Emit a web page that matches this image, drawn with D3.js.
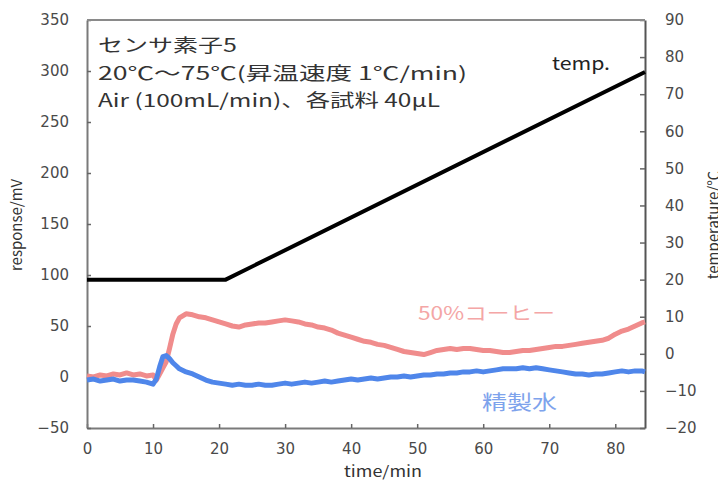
<!DOCTYPE html>
<html>
<head>
<meta charset="utf-8">
<script src="https://cdn.jsdelivr.net/npm/d3@7"></script>
<style>
  body { margin: 0; background: #fff; }
  text { font-family: "Noto Sans CJK JP", "Noto Sans", sans-serif; }
  .tick text { font-family: "DejaVu Sans", sans-serif; font-size: 15px; fill: #4a4a4a; }
</style>
</head>
<body>
<div id="chart"></div>
<script>
// time axis (min)
var times = [0,1,2,3,4,5,6,7,8,9,10,10.5,11,11.5,12,12.5,13,13.5,14,15,16,17,18,19,20,
  21,22,23,24,25,26,27,28,29,30,31,32,33,34,35,36,37,38,39,40,41,42,43,44,45,46,47,48,49,50,
  51,52,53,54,55,56,57,58,59,60,61,62,63,64,65,66,67,68,69,70,71,72,73,74,75,76,77,78,79,80,
  81,82,83,84,84.5];

// 50% coffee response (mV)
var coffee = [1,0,2,1,3,2,4,2,3,1,2,-3,3,9,15,28,42,52,58,62,61,59,58,56,54,
  52,50,49,51,52,53,53,54,55,56,55,54,52,51,49,48,46,43,41,39,37,35,34,32,31,29,27,25,24,23,
  22,24,26,27,28,27,28,28,27,26,26,25,24,24,25,26,26,27,28,29,30,30,31,32,33,34,35,36,38,42,
  45,47,50,53,54];

// purified water response (mV)
var water = [-3,-2,-4,-3,-2,-4,-3,-3,-4,-5,-7,-2,10,20,21,18,14,11,8,5,3,0,-3,-5,-6,
  -7,-8,-7,-8,-8,-7,-8,-8,-7,-6,-7,-6,-5,-6,-5,-4,-5,-4,-3,-2,-3,-2,-1,-2,-1,0,0,1,0,1,
  2,2,3,3,4,4,5,5,6,5,6,7,8,8,8,9,8,9,8,7,6,5,4,3,3,2,3,3,4,5,
  6,5,6,6,5];

// temperature (℃)
var tempTimes = [0, 21, 84.5];
var tempValues = [20, 20, 76];

var xTicks = [0,10,20,30,40,50,60,70,80];
var leftTicks = [-50,0,50,100,150,200,250,300,350];
var rightTicks = [-20,-10,0,10,20,30,40,50,60,70,80,90];

var notes = ["センサ素子5", "20℃～75℃(昇温速度 1℃/min)", "Air (100mL/min)、各試料 40μL"];

var svgWidth = 718, svgHeight = 482;
var plotLeft = 87, plotRight = 645, plotTop = 20, plotBottom = 428;

var svg = d3.select("#chart").append("svg")
  .attr("width", svgWidth)
  .attr("height", svgHeight);

var x = d3.scaleLinear().domain([0, 84.5]).range([plotLeft, plotRight]);
var yL = d3.scaleLinear().domain([-50, 350]).range([plotBottom, plotTop]);
var yR = d3.scaleLinear().domain([-20, 90]).range([plotBottom, plotTop]);

// axes (ticks pointing inward)
var xAxis = svg.append("g")
  .attr("transform", `translate(0,${plotBottom})`)
  .call(d3.axisBottom(x).tickValues(xTicks).tickSizeInner(-4).tickSizeOuter(0).tickPadding(15));
var leftAxis = svg.append("g")
  .attr("transform", `translate(${plotLeft},0)`)
  .call(d3.axisLeft(yL).tickValues(leftTicks).tickSizeInner(-4).tickSizeOuter(0).tickPadding(18));
var rightAxis = svg.append("g")
  .attr("transform", `translate(${plotRight},0)`)
  .call(d3.axisRight(yR).tickValues(rightTicks).tickSizeInner(-5).tickSizeOuter(0).tickPadding(20));

svg.selectAll(".domain").attr("stroke", "#7a7a7a").attr("stroke-width", 2);
svg.selectAll(".tick line").attr("stroke", "#666").attr("stroke-width", 1.5);
rightAxis.select(".domain").attr("stroke", "#555");

// top border
svg.append("line")
  .attr("x1", plotLeft).attr("x2", plotRight)
  .attr("y1", plotTop).attr("y2", plotTop)
  .attr("stroke", "#8a8a8a").attr("stroke-width", 2);

// series
var respLine = d3.line()
  .x((d, i) => x(times[i]))
  .y(d => yL(d));

svg.append("path")
  .datum(coffee)
  .attr("d", respLine)
  .attr("fill", "none")
  .attr("stroke", "#f08c8c")
  .attr("stroke-width", 5)
  .attr("stroke-linejoin", "round");

svg.append("path")
  .datum(water)
  .attr("d", respLine)
  .attr("fill", "none")
  .attr("stroke", "#4f86ea")
  .attr("stroke-width", 5)
  .attr("stroke-linejoin", "round");

var tempLine = d3.line()
  .x((d, i) => x(tempTimes[i]))
  .y(d => yR(d));

svg.append("path")
  .datum(tempValues)
  .attr("d", tempLine)
  .attr("fill", "none")
  .attr("stroke", "#000")
  .attr("stroke-width", 4)
  .attr("stroke-linejoin", "round");

// annotations
var noteLens = [139, 369, 342];
var noteY = [52, 80, 107];
notes.forEach(function(t, i) {
  svg.append("text")
    .attr("x", 98).attr("y", noteY[i])
    .attr("font-size", 18)
    .attr("fill", "#333")
    .attr("textLength", noteLens[i])
    .attr("lengthAdjust", "spacingAndGlyphs")
    .text(t);
});

svg.append("text")
  .attr("x", 552).attr("y", 70)
  .attr("font-size", 18)
  .attr("fill", "#222")
  .attr("textLength", 58)
  .attr("lengthAdjust", "spacingAndGlyphs")
  .text("temp.");

svg.append("text")
  .attr("x", 418).attr("y", 320)
  .attr("font-size", 18)
  .attr("fill", "#f4a6a6")
  .attr("textLength", 137)
  .attr("lengthAdjust", "spacingAndGlyphs")
  .text("50%コーヒー");

svg.append("text")
  .attr("x", 482).attr("y", 410)
  .attr("font-size", 20)
  .attr("fill", "#7ea3ec")
  .attr("textLength", 75)
  .attr("lengthAdjust", "spacingAndGlyphs")
  .text("精製水");

// axis titles
svg.append("text")
  .attr("x", 383).attr("y", 477)
  .attr("text-anchor", "middle")
  .attr("font-size", 15)
  .attr("fill", "#333")
  .attr("textLength", 78)
  .attr("lengthAdjust", "spacingAndGlyphs")
  .text("time/min");

svg.append("text")
  .attr("transform", "translate(22,225) rotate(-90)")
  .attr("text-anchor", "middle")
  .attr("font-size", 15)
  .attr("fill", "#333")
  .text("response/mV");

svg.append("text")
  .attr("transform", "translate(719,225) rotate(-90)")
  .attr("text-anchor", "middle")
  .attr("font-size", 15)
  .attr("fill", "#333")
  .text("temperature/℃");
</script>
</body>
</html>
